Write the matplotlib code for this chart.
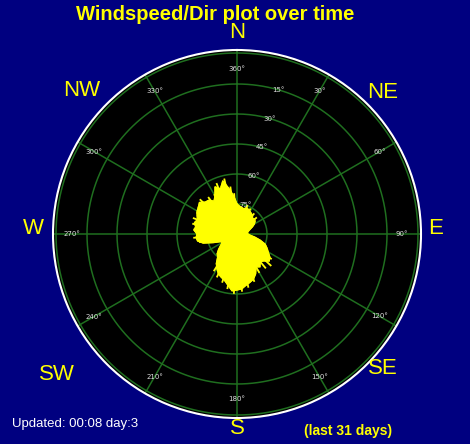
import numpy as np
import matplotlib
matplotlib.use("Agg")
import matplotlib.pyplot as plt

# wind direction (deg, compass) and speed for the last 31 days envelope
directions = list(range(0, 360, 5))
speeds = [15, 14, 13.5, 13, 14, 13.5, 13, 12.5, 12, 11, 11.5, 11,
          10, 8.5, 7, 6, 5.5, 5, 5.5, 6.5, 9, 12, 15, 16.5,
          18, 20, 21, 19, 18, 20, 19, 22, 24, 25, 26, 27.5,
          28, 28.5, 26, 24, 23, 22, 20, 18, 15, 14, 12, 10,
          8.5, 9, 12.5, 17.5, 20, 20.5, 20, 21.5, 21, 22, 21, 22,
          23, 23.5, 24.5, 22.5, 22, 20, 22, 26, 24, 27.5, 23, 19]

# individual gust spikes sticking out of the envelope
spike_dirs = [338, 342, 347, 352, 356, 330, 322, 313, 305, 298, 290, 283,
              276, 265, 258, 168, 175, 183, 190, 197, 205, 212, 160, 150,
              140, 133, 126, 118, 20, 28, 40, 50]
spike_speeds = [27, 25, 28, 23.5, 20, 22.5, 23, 25, 23.5, 22.5, 23, 22.5,
                21.5, 21.5, 19, 27, 28.5, 29.5, 27.5, 25, 23.5, 21.5, 25, 22,
                22, 23, 21, 17, 15, 14, 13, 12.5]

ring_values = [15, 30, 45, 60, 75]
ring_labels = ["75\u00b0", "60\u00b0", "45\u00b0", "30\u00b0", "15\u00b0"]
az_values = list(range(0, 360, 30))
az_labels = ["360\u00b0"] + [f"{a}\u00b0" for a in az_values[1:]]
compass = ["N", "NE", "E", "SE", "S", "SW", "W", "NW"]

BG = "#000080"
GRID = "#1f6e1f"
YEL = "#ffff00"

fig = plt.figure(figsize=(4.7, 4.44), dpi=100, facecolor=BG)
cx, cy, rad = 237 / 470, 1 - 234 / 444, 184
ax = fig.add_axes([cx - rad / 470, cy - rad / 444, 2 * rad / 470, 2 * rad / 444],
                  projection="polar")
ax.set_facecolor("black")
ax.set_theta_zero_location("N")
ax.set_theta_direction(-1)
ax.set_ylim(0, 92)
ax.grid(False)
ax.set_xticks([])
ax.set_yticks([])
ax.spines["polar"].set_color("white")
ax.spines["polar"].set_linewidth(1.5)

th_full = np.linspace(0, 2 * np.pi, 361)
for r in ring_values + [90.5]:
    ax.plot(th_full, [r] * len(th_full), color=GRID, lw=1.1)
for a in az_values:
    ax.plot([np.radians(a)] * 2, [0, 92], color=GRID, lw=1.1)

# wind envelope
th = np.radians(directions + [directions[0]])
sp = speeds + [speeds[0]]
ax.fill(th, sp, color=YEL, zorder=3)
ax.plot(th, sp, color=YEL, lw=0.8, zorder=3)
for d, s in zip(spike_dirs, spike_speeds):
    ax.plot([np.radians(d)] * 2, [0, s], color=YEL, lw=1.3, zorder=3)

for a, lab in zip(az_values, az_labels):
    ax.text(np.radians(a), 82.5, lab, color="#e0e0e0", fontsize=5,
            ha="center", va="center", zorder=4)
for r, lab in zip(ring_values, ring_labels):
    ax.text(np.radians(16), r, lab, color="#e0e0e0", fontsize=5,
            ha="center", va="center", zorder=4)

# compass letters (figure pixel coords)
comp_pos = [(237, 32), (383, 92), (436, 229), (383, 369),
            (237, 428), (57, 374), (33, 229), (82, 90)]
for lab, (x, y) in zip(compass, comp_pos):
    fig.text(x / 470, 1 - y / 444, lab, color=YEL, fontsize=16,
             family="Liberation Sans", ha="center", va="center")

fig.text(215 / 470, 1 - 14 / 444, "Windspeed/Dir plot over time", color=YEL,
         fontsize=14.5, fontweight="bold", family="Liberation Sans",
         ha="center", va="center")
fig.text(12 / 470, 1 - 424 / 444, "Updated: 00:08 day:3", color="white",
         fontsize=9.5, family="Liberation Sans", ha="left", va="center")
fig.text(348 / 470, 1 - 431 / 444, "(last 31 days)", color=YEL,
         fontsize=10, fontweight="bold", family="Liberation Sans",
         ha="center", va="center")

fig.savefig("out.png", dpi=100, facecolor=BG)
